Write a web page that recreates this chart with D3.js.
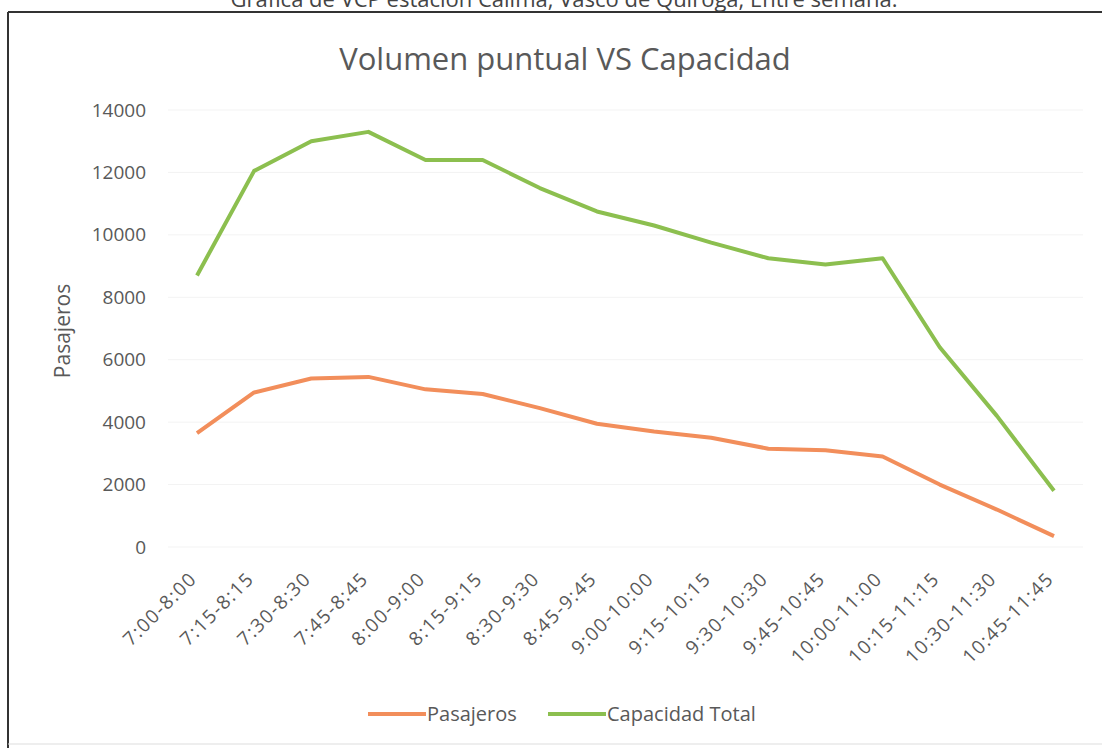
<!DOCTYPE html>
<html lang="es">
<head>
<meta charset="utf-8">
<script src="https://d3js.org/d3.v7.min.js"></script>
<style>
  body { margin: 0; background: #fff; }
  svg { display: block; }
  text { font-family: "Open Sans", "Noto Sans", sans-serif; fill: #595959; }
</style>
</head>
<body>
<div id="chart"></div>
<script>
// franjas horarias
var franjas = ["7:00-8:00", "7:15-8:15", "7:30-8:30", "7:45-8:45", "8:00-9:00", "8:15-9:15",
  "8:30-9:30", "8:45-9:45", "9:00-10:00", "9:15-10:15", "9:30-10:30", "9:45-10:45",
  "10:00-11:00", "10:15-11:15", "10:30-11:30", "10:45-11:45"];

var pasajeros = [3650, 4950, 5400, 5450, 5050, 4900, 4450, 3950, 3700, 3500, 3150, 3100, 2900, 2000, 1200, 350];
var capacidad = [8700, 12050, 13000, 13300, 12400, 12400, 11500, 10750, 10300, 9750, 9250, 9050, 9250, 6400, 4200, 1800];

var yTicks = [0, 2000, 4000, 6000, 8000, 10000, 12000, 14000];

var series = [
  { name: "Pasajeros", values: pasajeros, color: "#f28e5b" },
  { name: "Capacidad Total", values: capacidad, color: "#8cbf4f" }
];

var W = 1102, H = 748;

var svg = d3.select("#chart").append("svg")
    .attr("width", W)
    .attr("height", H);

// pie de figura, recortado arriba como en el escaneo
svg.append("text")
    .attr("x", 564)
    .attr("y", 7)
    .attr("text-anchor", "middle")
    .style("font-size", "22px")
    .style("fill", "#444")
    .text("Gráfica de VCP estación Calima, Vasco de Quiroga, Entre semana.");

// marco
svg.append("line").attr("x1", 8).attr("x2", 1102).attr("y1", 12).attr("y2", 12)
    .attr("stroke", "#333").attr("stroke-width", 2);
svg.append("line").attr("x1", 8).attr("x2", 8).attr("y1", 12).attr("y2", 748)
    .attr("stroke", "#333").attr("stroke-width", 2);
svg.append("line").attr("x1", 8).attr("x2", 1102).attr("y1", 744).attr("y2", 744)
    .attr("stroke", "#ddd").attr("stroke-width", 1);

svg.append("text")
    .attr("x", 565)
    .attr("y", 70)
    .attr("text-anchor", "middle")
    .style("font-size", "31px")
    .text("Volumen puntual VS Capacidad");

var x = d3.scalePoint()
    .domain(franjas)
    .range([197, 1054]);

var y = d3.scaleLinear()
    .domain([0, 14000])
    .range([547, 110]);

// rejilla muy tenue
svg.append("g")
    .selectAll("line")
    .data(yTicks)
    .enter()
    .append("line")
    .attr("x1", 168)
    .attr("x2", 1083)
    .attr("y1", function(d) { return y(d); })
    .attr("y2", function(d) { return y(d); })
    .attr("stroke", "#f3f3f3")
    .attr("stroke-width", 1);

var yAxis = svg.append("g")
    .attr("transform", "translate(146,0)")
    .call(d3.axisLeft(y).tickValues(yTicks).tickSize(0).tickPadding(0).tickFormat(d3.format("d")));
yAxis.select(".domain").remove();
yAxis.selectAll("text")
    .style("font-size", "19px")
    .style("fill", "#595959")
    .style("font-family", "'Open Sans', sans-serif");

svg.append("text")
    .attr("transform", "translate(70,331) rotate(-90)")
    .attr("text-anchor", "middle")
    .style("font-size", "21px")
    .text("Pasajeros");

// etiquetas del eje x, giradas
svg.append("g")
    .selectAll("text")
    .data(franjas)
    .enter()
    .append("text")
    .attr("text-anchor", "end")
    .attr("transform", function(d) {
        return "translate(" + (x(d) + 1) + ",580) rotate(-45)";
    })
    .style("font-size", "19px")
    .style("letter-spacing", "1.5px")
    .text(function(d) { return d; });

var line = d3.line()
    .x(function(d, i) { return x(franjas[i]); })
    .y(function(d) { return y(d); });

svg.append("g")
    .selectAll("path")
    .data(series)
    .enter()
    .append("path")
    .attr("d", function(s) { return line(s.values); })
    .attr("fill", "none")
    .attr("stroke", function(s) { return s.color; })
    .attr("stroke-width", 4)
    .attr("stroke-linejoin", "round");

// leyenda
var legendX = [368, 548];
var leg = svg.append("g")
    .selectAll("g")
    .data(series)
    .enter()
    .append("g")
    .attr("transform", function(s, i) { return "translate(" + legendX[i] + ",714)"; });
leg.append("line")
    .attr("x1", 0).attr("x2", 58)
    .attr("stroke", function(s) { return s.color; })
    .attr("stroke-width", 4);
leg.append("text")
    .attr("x", 59)
    .attr("y", 7)
    .style("font-size", "20px")
    .text(function(s) { return s.name; });
</script>
</body>
</html>
